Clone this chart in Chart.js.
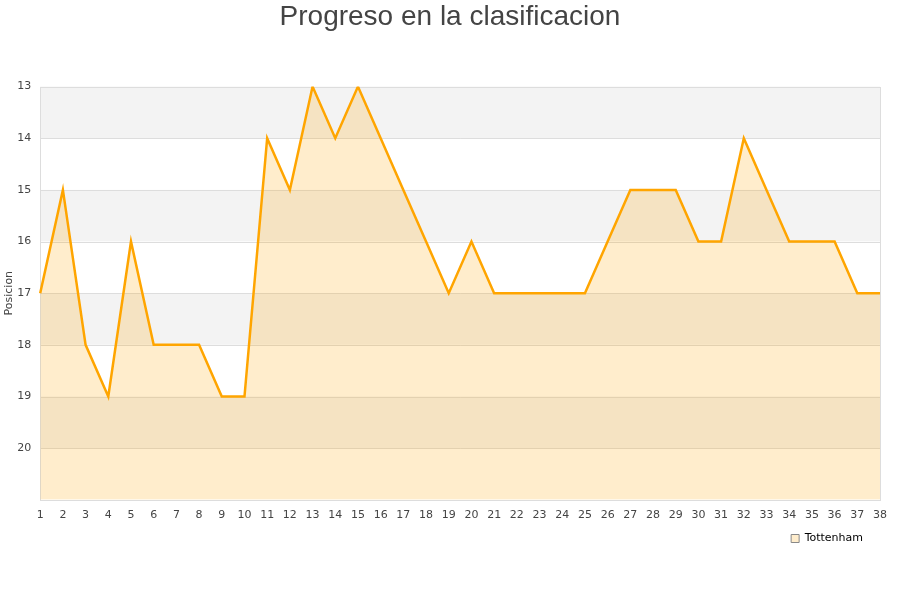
<!DOCTYPE html>
<html>
<head>
<meta charset="utf-8">
<script src="https://cdn.jsdelivr.net/npm/chart.js@4/dist/chart.umd.min.js"></script>
<style>
  body { margin: 0; background: #fff; }
  #wrap { width: 900px; height: 600px; }
</style>
</head>
<body>
<div id="wrap"><canvas id="myChart"></canvas></div>
<script>
const jornadas = [];
for (let i = 1; i <= 38; i++) jornadas.push(String(i));

const posiciones = [17, 15, 18, 19, 16, 18, 18, 18, 19, 19,
  14, 15, 13, 14, 13, 14, 15, 16, 17, 16,
  17, 17, 17, 17, 17, 16, 15, 15, 15, 16,
  16, 14, 15, 16, 16, 16, 17, 17];

const equipo = "Tottenham";
const titulo = "Progreso en la clasificacion";

// alternating bands behind the data
const bands = {
  id: "bands",
  afterLayout(chart) {
    // nudge the legend left and centre the title on the page
    if (chart.legend) {
      chart.legend.left -= 11;
      chart.legend.right -= 11;
    }
    if (chart.titleBlock) {
      chart.titleBlock.left = 0;
      chart.titleBlock.right = chart.width;
      chart.titleBlock.width = chart.width;
    }
  },
  beforeDatasetsDraw(chart) {
    const { ctx, chartArea, scales } = chart;
    const y = scales.y;
    ctx.save();
    for (let v = y.min; v < y.max; v++) {
      const top = y.getPixelForValue(v);
      const bot = y.getPixelForValue(v + 1);
      ctx.fillStyle = (v - y.min) % 2 === 0 ? "#f3f3f3" : "#ffffff";
      ctx.fillRect(chartArea.left, top, chartArea.right - chartArea.left, bot - top);
    }
    ctx.strokeStyle = "#dddddd";
    ctx.lineWidth = 1;
    for (let v = y.min; v <= y.max; v++) {
      const p = Math.round(y.getPixelForValue(v)) + 0.5;
      ctx.beginPath();
      ctx.moveTo(chartArea.left, p);
      ctx.lineTo(chartArea.right, p);
      ctx.stroke();
    }
    ctx.strokeRect(Math.round(chartArea.left) + 0.5, Math.round(chartArea.top) + 0.5,
      Math.round(chartArea.right - chartArea.left), Math.round(chartArea.bottom - chartArea.top));
    ctx.restore();
  },
};

new Chart(document.getElementById("myChart").getContext("2d"), {
  type: "line",
  data: {
    labels: jornadas,
    datasets: [
      {
        label: equipo,
        data: posiciones,
        borderColor: "#FFA500",
        backgroundColor: "rgba(255, 165, 0, 0.2)",
        borderWidth: 2.5,
        pointRadius: 0,
        tension: 0,
        fill: { value: 21 },
      },
    ],
  },
  options: {
    responsive: true,
    maintainAspectRatio: false,
    animation: false,
    layout: { padding: { left: 3, right: 20, top: 0, bottom: 46 } },
    plugins: {
      title: {
        display: true,
        text: titulo,
        color: "#444444",
        font: { family: "Liberation Sans", size: 28, weight: "normal" },
        padding: { top: 0, bottom: 53 },
      },
      legend: {
        position: "bottom",
        align: "end",
        labels: {
          boxWidth: 8,
          boxHeight: 8,
          padding: 6,
          color: "#222222",
          font: { family: "DejaVu Sans", size: 11 },
          generateLabels: (chart) => [{
            text: equipo,
            fillStyle: "rgba(255, 165, 0, 0.2)",
            strokeStyle: "#888888",
            lineWidth: 1,
            datasetIndex: 0,
          }],
        },
      },
      tooltip: { enabled: false },
    },
    scales: {
      x: {
        type: "category",
        offset: false,
        grid: { display: false },
        border: { display: false },
        afterFit: (scale) => { scale.height += 4; },
        ticks: {
          padding: 1,
          color: "#444444",
          font: { family: "DejaVu Sans", size: 11 },
          maxRotation: 0,
          autoSkip: false,
        },
      },
      y: {
        reverse: true,
        min: 13,
        max: 21,
        grid: { display: false },
        border: { display: false },
        title: {
          display: true,
          text: "Posicion",
          color: "#444444",
          font: { family: "DejaVu Sans", size: 11 },
          padding: 0,
        },
        ticks: {
          stepSize: 1,
          padding: 1,
          color: "#444444",
          font: { family: "DejaVu Sans", size: 11 },
          callback: (v) => (v === 21 ? "" : v),
        },
      },
    },
  },
  plugins: [bands],
});
</script>
</body>
</html>
